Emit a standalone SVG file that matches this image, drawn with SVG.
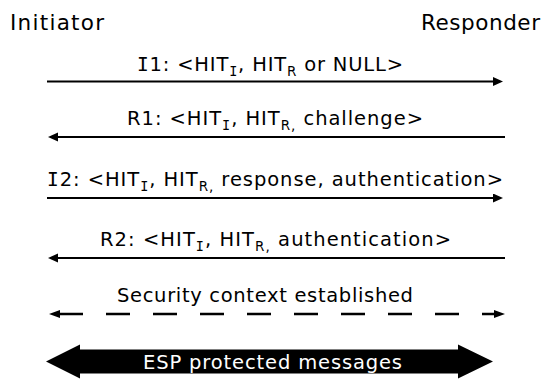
<svg xmlns="http://www.w3.org/2000/svg" width="545" height="379" viewBox="0 0 545 379">
<style>
text{font-family:"DejaVu Sans","Verdana",sans-serif;fill:#000}
.role{font-size:21.5px}
.msg{font-size:19.5px;text-anchor:middle}
.sub{font-size:13.5px}
.ser{font-family:"DejaVu Sans Mono",monospace}
.line{stroke:#000;stroke-width:2;fill:none}
.dash{stroke-dasharray:24 23;stroke-width:2.4}
.esp{font-size:19.5px;fill:#fff;text-anchor:middle}
</style>
<defs>
<marker id="head" markerUnits="userSpaceOnUse" markerWidth="12" markerHeight="10" refX="1" refY="4.5" orient="auto">
<path d="M0,0 L10,4.5 L0,9 z" fill="#000"/>
</marker>
<marker id="headS" markerUnits="userSpaceOnUse" markerWidth="14" markerHeight="10" refX="1" refY="4" orient="auto-start-reverse">
<path d="M0,0 L11,4 L0,8 z" fill="#000"/>
</marker>
</defs>
<g id="initiator"><text class="role" x="10" y="30" textLength="94" lengthAdjust="spacing">Initiator</text></g>
<g id="responder"><text class="role" x="421" y="30" textLength="119" lengthAdjust="spacing">Responder</text></g>
<g id="connectors">
<g id="msg-i1">
<line class="line" x1="47" y1="81.5" x2="494" y2="81.5" marker-end="url(#head)"/>
<text class="msg" x="270" y="71" textLength="266" lengthAdjust="spacing"><tspan class="ser">I</tspan>1: &lt;HIT<tspan class="sub ser" dy="5">I</tspan><tspan dy="-5">, HIT</tspan><tspan class="sub" dy="5">R</tspan><tspan dy="-5"> or NULL&gt;</tspan></text>
</g>
<g id="msg-r1">
<line class="line" x1="505" y1="137" x2="57" y2="137" marker-end="url(#head)"/>
<text class="msg" x="275" y="125" textLength="296" lengthAdjust="spacing">R1: &lt;HIT<tspan class="sub ser" dy="5">I</tspan><tspan dy="-5">, HIT</tspan><tspan class="sub" dy="5">R,</tspan><tspan dy="-5"> challenge&gt;</tspan></text>
</g>
<g id="msg-i2">
<line class="line" x1="47" y1="198" x2="494" y2="198" marker-end="url(#head)"/>
<text class="msg" x="275" y="186" textLength="456" lengthAdjust="spacing"><tspan class="ser">I</tspan>2: &lt;HIT<tspan class="sub ser" dy="5">I</tspan><tspan dy="-5">, HIT</tspan><tspan class="sub" dy="5">R,</tspan><tspan dy="-5"> response, authentication&gt;</tspan></text>
</g>
<g id="msg-r2">
<line class="line" x1="505" y1="258" x2="57" y2="258" marker-end="url(#head)"/>
<text class="msg" x="275.5" y="246" textLength="351" lengthAdjust="spacing">R2: &lt;HIT<tspan class="sub ser" dy="5">I</tspan><tspan dy="-5">, HIT</tspan><tspan class="sub" dy="5">R,</tspan><tspan dy="-5"> authentication&gt;</tspan></text>
</g>
<g id="msg-sec">
<line class="line dash" x1="59" y1="314" x2="495" y2="314" marker-start="url(#headS)" marker-end="url(#headS)"/>
<text class="msg" x="265" y="302" textLength="296" lengthAdjust="spacing">Security context established</text>
</g>
<g id="msg-esp">
<polygon points="46,361.5 80,344.5 80,349.5 458,349.5 458,344.5 493,361.5 458,378.5 458,373.5 80,373.5 80,378.5" fill="#000"/>
<text class="esp" x="272.5" y="369" textLength="259" lengthAdjust="spacing">ESP protected messages</text>
</g>
</g>
</svg>
